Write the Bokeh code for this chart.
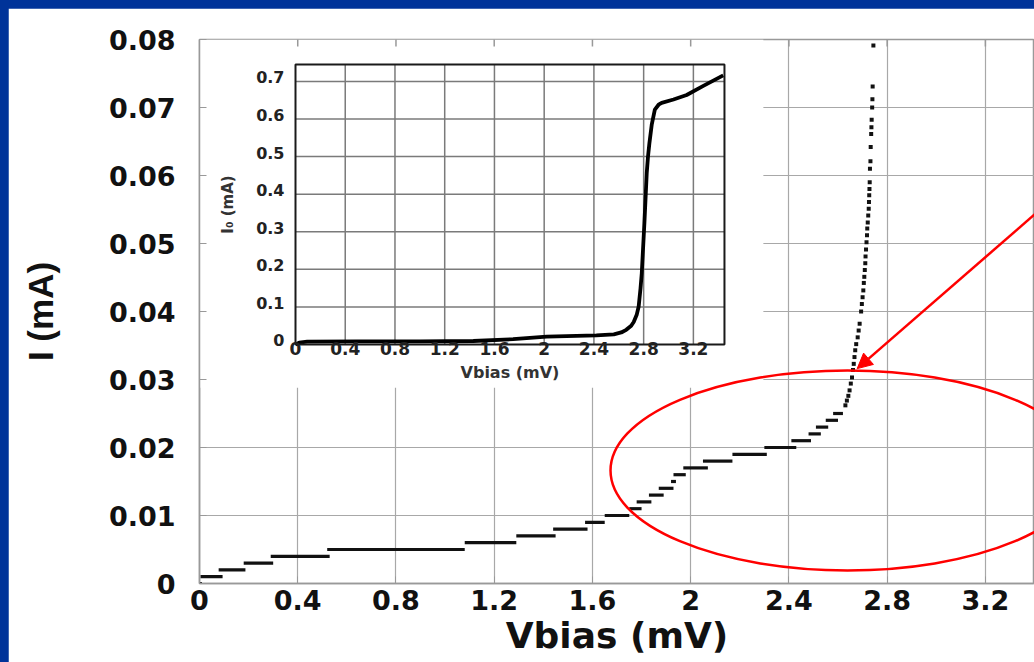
import math
from bokeh.plotting import figure
from bokeh.models import Range1d, FixedTicker, Arrow, NormalHead
from bokeh.core.properties import value
from bokeh.embed import file_html
from bokeh.resources import INLINE

# ---------------- data ----------------
# current steps of the main I-V curve: start voltage, end voltage, current
step_v_start = [0.0, 0.004, 0.078, 0.18, 0.29, 0.52, 1.08, 1.29, 1.44, 1.57, 1.65,
                1.75, 1.78, 1.83, 1.87, 1.92, 1.93, 1.97, 2.05, 2.17, 2.30, 2.41,
                2.48, 2.51, 2.55, 2.58]
step_v_end = [0.01, 0.094, 0.187, 0.30, 0.53, 1.08, 1.29, 1.45, 1.58, 1.65, 1.75,
              1.80, 1.84, 1.89, 1.93, 1.94, 1.98, 2.07, 2.17, 2.31, 2.43, 2.49,
              2.53, 2.56, 2.60, 2.62]
step_i = [0.0, 0.001, 0.002, 0.003, 0.004, 0.005, 0.006, 0.007, 0.008, 0.009, 0.010,
          0.011, 0.012, 0.013, 0.014, 0.015, 0.016, 0.017, 0.018, 0.019, 0.020, 0.021,
          0.022, 0.023, 0.024, 0.025]

# steep rise (individual points)
rise_v = [2.630, 2.636, 2.642, 2.647, 2.652, 2.657, 2.661, 2.664, 2.667, 2.670,
          2.674, 2.680, 2.684, 2.688, 2.694, 2.697, 2.700, 2.703, 2.705, 2.707,
          2.709, 2.711, 2.712, 2.714, 2.716, 2.718, 2.719, 2.721, 2.723, 2.725,
          2.726, 2.727, 2.728, 2.729, 2.730, 2.732, 2.733, 2.735, 2.736, 2.737,
          2.739, 2.740, 2.741, 2.744]
rise_i = [0.0262, 0.0269, 0.0276, 0.0284, 0.0294, 0.0303, 0.0314, 0.0323, 0.0333, 0.0343,
          0.0352, 0.0362, 0.0372, 0.0382, 0.0400, 0.0411, 0.0421, 0.0431, 0.0442, 0.0451,
          0.0461, 0.0471, 0.0481, 0.0491, 0.0502, 0.0512, 0.0522, 0.0531, 0.0541, 0.0551,
          0.0561, 0.0571, 0.0580, 0.0590, 0.0610, 0.0621, 0.0642, 0.0661, 0.0671, 0.0682,
          0.0700, 0.0712, 0.0731, 0.0791]

# inset curve
inset_v = [0.0, 0.03, 0.094, 0.5, 1.0, 1.43, 1.75, 2.02, 2.42, 2.56, 2.62, 2.66, 2.70,
           2.72, 2.745, 2.76, 2.775, 2.785, 2.806, 2.825, 2.835, 2.846, 2.865, 2.89,
           2.92, 2.945, 3.04, 3.146, 3.28, 3.44]
inset_i = [0.0, 0.005, 0.0075, 0.008, 0.0085, 0.0093, 0.014, 0.021, 0.024, 0.027, 0.032,
           0.039, 0.050, 0.060, 0.080, 0.101, 0.150, 0.190, 0.323, 0.457, 0.500, 0.535,
           0.585, 0.625, 0.638, 0.643, 0.652, 0.664, 0.688, 0.716]

x_ticks = [0, 0.4, 0.8, 1.2, 1.6, 2, 2.4, 2.8, 3.2]
x_tick_labels = ["0", "0.4", "0.8", "1.2", "1.6", "2", "2.4", "2.8", "3.2"]
y_ticks = [0, 0.01, 0.02, 0.03, 0.04, 0.05, 0.06, 0.07, 0.08]
y_tick_labels = ["0", "0.01", "0.02", "0.03", "0.04", "0.05", "0.06", "0.07", "0.08"]
inset_x_ticks = [0, 0.4, 0.8, 1.2, 1.6, 2, 2.4, 2.8, 3.2]
inset_x_tick_labels = ["0", "0.4", "0.8", "1.2", "1.6", "2", "2.4", "2.8", "3.2"]
inset_y_ticks = [0, 0.1, 0.2, 0.3, 0.4, 0.5, 0.6, 0.7]
inset_y_tick_labels = ["0", "0.1", "0.2", "0.3", "0.4", "0.5", "0.6", "0.7"]

# ---------------- layout constants ----------------
X_MAX, Y_MAX = 3.4, 0.08
INSET_X_MAX, INSET_Y_MAX = 3.45, 0.745
# inset frame position in main data units
INS_L, INS_R, INS_B, INS_T = 0.3909, 2.1376, 0.03515, 0.07632
# white box behind the inset (main data units)
BOX_R, BOX_B = 2.296, 0.0288

FONT = "DejaVu Sans"
GRID = "#a8a8a8"
AXC = "#999999"

p = figure(width=1026, height=654,
           x_range=Range1d(0, X_MAX), y_range=Range1d(0, Y_MAX),
           output_backend="svg", toolbar_location=None,
           min_border_left=191, min_border_right=0,
           min_border_top=31, min_border_bottom=79,
           background_fill_color="white", border_fill_color="white",
           outline_line_color=AXC, outline_line_width=1.5)

sx = INSET_X_MAX / (INS_R - INS_L)
sy = INSET_Y_MAX / (INS_T - INS_B)
p.extra_x_ranges = {"ix": Range1d((0 - INS_L) * sx, (X_MAX - INS_L) * sx)}
p.extra_y_ranges = {"iy": Range1d((0 - INS_B) * sy, (Y_MAX - INS_B) * sy)}

# main axes
p.xaxis.ticker = FixedTicker(ticks=x_ticks)
p.xaxis.major_label_overrides = dict(zip(x_ticks, x_tick_labels))
p.yaxis.ticker = FixedTicker(ticks=y_ticks)
p.yaxis.major_label_overrides = dict(zip(y_ticks, y_tick_labels))
for ax in (p.xaxis[0], p.yaxis[0]):
    ax.major_label_text_font = FONT
    ax.major_label_text_font_style = "bold"
    ax.major_label_text_font_size = "27px"
    ax.major_label_text_color = "#111111"
    ax.major_tick_in = 7
    ax.major_tick_out = 0
    ax.minor_tick_line_color = None
    ax.axis_line_color = AXC
    ax.axis_line_width = 1.5
    ax.major_tick_line_color = AXC
p.xaxis.major_label_standoff = 6
p.yaxis.major_label_standoff = 24
p.xaxis.axis_label = "Vbias (mV)"
p.xaxis.axis_label_text_font = FONT
p.xaxis.axis_label_text_font_style = "bold"
p.xaxis.axis_label_text_font_size = "36px"
p.xaxis.axis_label_text_color = "#111111"
p.xaxis.axis_label_standoff = 2
p.yaxis.axis_label = "I (mA)"
p.yaxis.axis_label_text_font = "Liberation Sans"
p.yaxis.axis_label_text_font_style = "bold"
p.yaxis.axis_label_text_font_size = "35px"
p.yaxis.axis_label_text_color = "#111111"
p.yaxis.axis_label_standoff = 46

p.xgrid.ticker = FixedTicker(ticks=x_ticks)
p.ygrid.ticker = FixedTicker(ticks=y_ticks)
p.grid.grid_line_color = GRID
p.grid.grid_line_width = 1.2

# white box behind the inset
p.quad(left=[0], right=[BOX_R], bottom=[BOX_B], top=[Y_MAX],
       fill_color="white", line_color=None)

# inward tick stubs along the top edge of the main frame
p.scatter(x=x_ticks[1:], y=[Y_MAX] * (len(x_ticks) - 1), marker="dash",
          angle=math.pi / 2, size=14, line_color=AXC, line_width=1.5)

# ---------------- inset ----------------
IR = dict(x_range_name="ix", y_range_name="iy")
gx = inset_x_ticks[1:]
p.segment(x0=gx, x1=gx, y0=[0] * len(gx), y1=[INSET_Y_MAX] * len(gx),
          line_color="#7a7a7a", line_width=1.5, **IR)
gy = inset_y_ticks[1:]
p.segment(x0=[0] * len(gy), x1=[INSET_X_MAX] * len(gy), y0=gy, y1=gy,
          line_color="#7a7a7a", line_width=1.5, **IR)
p.line(inset_v, inset_i, line_color="#000000", line_width=3.8, **IR)
p.quad(left=[0], right=[INSET_X_MAX], bottom=[0], top=[INSET_Y_MAX],
       fill_color=None, line_color="#1a1a1a", line_width=2, **IR)

p.text(x=inset_x_ticks, y=[0] * len(inset_x_ticks), text=inset_x_tick_labels,
       text_font=value(FONT), text_font_style="bold", text_font_size="17px",
       text_color="#222222", text_align="center", text_baseline="top",
       y_offset=-2, **IR)
p.text(x=[0] * len(inset_y_ticks), y=inset_y_ticks, text=inset_y_tick_labels,
       text_font=value(FONT), text_font_style="bold", text_font_size="16px",
       text_color="#222222", text_align="right", text_baseline="middle",
       x_offset=-11, y_offset=-4, **IR)
p.text(x=[INSET_X_MAX / 2], y=[0], text=["Vbias (mV)"],
       text_font=value(FONT), text_font_style="bold", text_font_size="16px",
       text_color="#333333", text_align="center", text_baseline="top",
       y_offset=19, **IR)
p.text(x=[0], y=[INSET_Y_MAX / 2], text=["I\u2080 (mA)"], angle=math.pi / 2,
       text_font=value(FONT), text_font_style="bold", text_font_size="15px",
       text_color="#333333", text_align="center", text_baseline="middle",
       x_offset=-68, **IR)

# ---------------- main data ----------------
p.segment(x0=step_v_start, x1=step_v_end, y0=step_i, y1=step_i,
          line_color="#111111", line_width=3.2)
p.scatter(rise_v, rise_i, marker="square", size=4, fill_color="#111111",
          line_color=None)

# ---------------- red annotations ----------------
p.ellipse(x=[2.6386], y=[0.01662], width=[1.930], height=[0.02941],
          fill_color=None, line_color="#ff0000", line_width=2.5)
p.add_layout(Arrow(end=NormalHead(size=15, fill_color="#ff0000", line_color="#ff0000"),
                   x_start=3.5, y_start=0.0574, x_end=2.678, y_end=0.0316,
                   line_color="#ff0000", line_width=2.5))

html = file_html(p, INLINE)
style = ("<style>html,body{background:#003399;}"
         "body{margin:8px 0 0 8px;overflow:hidden;}</style>")
k = html.rfind("</body>")
html = html[:k] + style + html[k:]
open("out.html", "w").write(html)
